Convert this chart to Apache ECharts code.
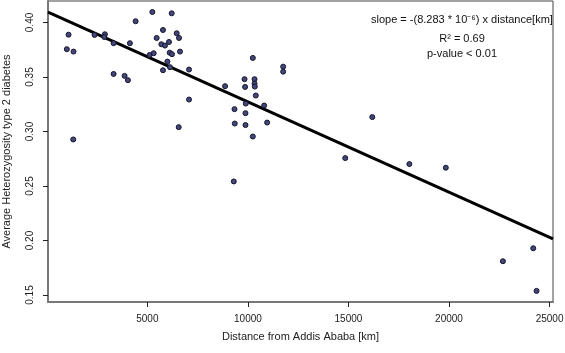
<!DOCTYPE html>
<html>
<head>
<meta charset="utf-8">
<script src="https://cdn.jsdelivr.net/npm/echarts@6/dist/echarts.min.js"></script>
<style>
  html, body { margin: 0; padding: 0; background: #fff; }
  #chart { width: 565px; height: 353px; }
</style>
</head>
<body>
<div id="chart"></div>
<script>
// distance from Addis Ababa [km]
const distance = [
  1081, 996, 1330, 1315, 2375, 2888, 2859, 3322, 3322, 3870,
  4034, 4133, 4417, 5249, 6210, 5777, 5463, 5697, 5876, 6076,
  6459, 6574, 6110, 6225, 6623, 5114, 5314, 5996, 5777, 6125,
  7072, 7072, 6559, 10244, 11753, 11753, 9831, 10329, 10329, 10344,
  8864, 9860, 10393, 9895, 10807, 9333, 9880, 9347, 9880, 10956,
  10244, 16185, 14840, 9298, 18028, 19840, 24188, 22679, 24352
]
// average heterozygosity
const heterozygosity = [
  0.3888, 0.3755, 0.3733, 0.2927, 0.3886, 0.3892, 0.3867, 0.3810, 0.3528, 0.3510,
  0.3471, 0.3810, 0.4011, 0.4096, 0.4084, 0.3931, 0.3858, 0.3800, 0.3788, 0.3821,
  0.3901, 0.3858, 0.3723, 0.3709, 0.3733, 0.3702, 0.3718, 0.3641, 0.3562, 0.3590,
  0.3568, 0.3293, 0.3040, 0.3675, 0.3595, 0.3549, 0.3480, 0.3480, 0.3440, 0.3412,
  0.3416, 0.3409, 0.3330, 0.3256, 0.3238, 0.3205, 0.3168, 0.3073, 0.3059, 0.3082,
  0.2954, 0.3132, 0.2756, 0.2542, 0.2701, 0.2668, 0.1929, 0.1810, 0.1538
]
// fitted line end points
const fitX = [60, 25170]
const fitY = [0.4096, 0.2016]

const xTicks = [5000, 10000, 15000, 20000, 25000]
const yTicks = [0.15, 0.20, 0.25, 0.30, 0.35, 0.40]

const chart = echarts.init(document.getElementById('chart'))

const font = 'Liberation Sans, Arial, sans-serif'

const option = {
    animation: false,
    grid: {
        left: 48,
        right: 12,
        top: 1,
        bottom: 51,
        outerBoundsMode: 'none',
        show: true,
        borderColor: '#444',
        borderWidth: 1
    },
    xAxis: {
        type: 'value',
        min: 60,
        max: 25170,
        name: 'Distance from Addis Ababa [km]',
        nameLocation: 'middle',
        nameGap: 29,
        nameTextStyle: { fontFamily: font, fontSize: 11, color: '#222' },
        axisLine: { show: true, lineStyle: { color: '#777', width: 2 } },
        axisTick: { show: true, length: 5, customValues: xTicks, lineStyle: { color: '#222' } },
        axisLabel: {
            customValues: xTicks,
            margin: 12,
            fontFamily: font,
            fontSize: 10,
            color: '#222',
            formatter: v => String(v)
        },
        splitLine: { show: false }
    },
    yAxis: {
        type: 'value',
        min: 0.1436,
        max: 0.4197,
        name: 'Average Heterozygosity type 2 diabetes',
        nameLocation: 'middle',
        nameGap: 36,
        nameTextStyle: { fontFamily: font, fontSize: 11, color: '#222' },
        axisLine: { show: true, lineStyle: { color: '#777', width: 2 } },
        axisTick: { show: true, length: 5, customValues: yTicks, lineStyle: { color: '#222' } },
        axisLabel: {
            customValues: yTicks,
            rotate: 90,
            margin: 13,
            fontFamily: font,
            fontSize: 10,
            color: '#222',
            formatter: v => v.toFixed(2)
        },
        splitLine: { show: false }
    },
    graphic: [
        {
            type: 'text',
            left: 371,
            top: 14,
            style: {
                text: 'slope = -(8.283 * 10⁻⁶) x distance[km]',
                font: '11px ' + font,
                fill: '#111'
            }
        },
        {
            type: 'text',
            x: 462,
            y: 31,
            style: {
                text: 'R² = 0.69\np-value < 0.01',
                font: '11px ' + font,
                fill: '#111',
                align: 'center',
                lineHeight: 15
            }
        }
    ],
    series: [
        {
            type: 'line',
            data: fitX.map((x, i) => [x, fitY[i]]),
            symbol: 'none',
            lineStyle: { color: '#000', width: 3 },
            z: 2
        },
        {
            type: 'scatter',
            data: distance.map((x, i) => [x, heterozygosity[i]]),
            symbolSize: 5,
            itemStyle: { color: '#43467a', borderColor: '#15152a', borderWidth: 1, opacity: 1 },
            z: 3
        }
    ]
}

chart.setOption(option)
</script>
</body>
</html>
